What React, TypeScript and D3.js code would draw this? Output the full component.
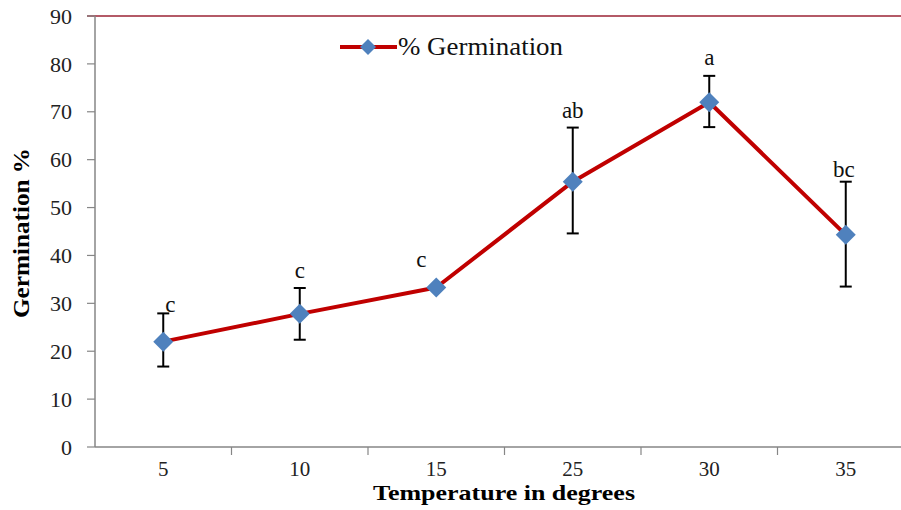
import React from "react";
import * as d3 from "d3";

const categories = ["5", "10", "15", "25", "30", "35"];
const germination = [22.0, 27.8, 33.3, 55.4, 72.0, 44.3];
const errUpper = [27.9, 33.2, 33.6, 66.7, 77.5, 55.4];
const errLower = [16.8, 22.4, 33.0, 44.6, 66.8, 33.5];
const letters = ["c", "c", "c", "ab", "a", "bc"];
const yTicks = [0, 10, 20, 30, 40, 50, 60, 70, 80, 90];

const W = 901;
const H = 510;
const left = 95;
const top = 16;
const bottom = 447;
const right = 914;

export default function App() {
  const x = d3.scaleBand<string>().domain(categories).range([left, right]);
  const y = d3.scaleLinear().domain([0, 90]).range([bottom, top]);
  const cx = (c: string) => (x(c) as number) + x.bandwidth() / 2;
  const line = d3
    .line<number>()
    .x((_, i) => cx(categories[i]))
    .y((d) => y(d));
  const serif = { fontFamily: "Liberation Serif, DejaVu Serif, serif" };
  const diamond = (px: number, py: number, r = 10) =>
    `M${px},${py - r}L${px + r},${py}L${px},${py + r}L${px - r},${py}Z`;
  const labelDx = [7, 0, -15, 0, 0, -2];
  const labelDy = [-1, -10, -19, -10, -11, -5];

  return (
    <svg width={W} height={H} style={{ position: "absolute", left: 0, top: 0, background: "#fff" }}>
      {/* top border */}
      <line x1={left - 8} x2={W} y1={y(90)} y2={y(90)} stroke="#9B2335" strokeWidth={1.5} />
      {/* y axis */}
      <line x1={left} x2={left} y1={top} y2={bottom} stroke="#868686" strokeWidth={1.5} />
      {yTicks.map((t) => (
        <g key={t}>
          <line x1={left - 8} x2={left} y1={y(t)} y2={y(t)} stroke="#868686" strokeWidth={1.2} />
          <text
            x={72}
            y={y(t)}
            dy="0.35em"
            textAnchor="end"
            style={serif}
            fontSize={22}
            fill="#222"
          >
            {t}
          </text>
        </g>
      ))}
      {/* x axis */}
      <line x1={left} x2={right} y1={bottom} y2={bottom} stroke="#868686" strokeWidth={1.5} />
      {categories.map((c, i) => (
        <g key={c}>
          {i > 0 && (
            <line
              x1={x(c) as number}
              x2={x(c) as number}
              y1={bottom}
              y2={bottom + 8}
              stroke="#868686"
              strokeWidth={1.2}
            />
          )}
          <text x={cx(c)} y={476} textAnchor="middle" style={serif} fontSize={21} fill="#222">
            {c}
          </text>
        </g>
      ))}
      <line
        x1={right}
        x2={right}
        y1={bottom}
        y2={bottom + 8}
        stroke="#868686"
        strokeWidth={1.2}
      />
      {/* axis titles */}
      <text
        x={504}
        y={500}
        textAnchor="middle"
        style={serif}
        fontSize={21}
        fontWeight="bold"
        textLength={262}
        lengthAdjust="spacingAndGlyphs"
      >
        Temperature in degrees
      </text>
      <text
        transform="translate(29,233) rotate(-90)"
        textAnchor="middle"
        style={serif}
        fontSize={24}
        fontWeight="bold"
        textLength={170}
        lengthAdjust="spacingAndGlyphs"
      >
        Germination %
      </text>
      {/* series line */}
      <path d={line(germination) || ""} fill="none" stroke="#C00000" strokeWidth={4} strokeLinejoin="round" />
      {/* error bars */}
      {categories.map((c, i) => (
        <g key={"e" + c} stroke="#000" strokeWidth={2}>
          <line x1={cx(c)} x2={cx(c)} y1={y(errUpper[i])} y2={y(errLower[i])} />
          <line x1={cx(c) - 6} x2={cx(c) + 6} y1={y(errUpper[i])} y2={y(errUpper[i])} />
          <line x1={cx(c) - 6} x2={cx(c) + 6} y1={y(errLower[i])} y2={y(errLower[i])} />
        </g>
      ))}
      {/* markers */}
      {categories.map((c, i) => (
        <path key={"m" + c} d={diamond(cx(c), y(germination[i]))} fill="#4F81BD" />
      ))}
      {/* letters */}
      {categories.map((c, i) => (
        <text
          key={"l" + c}
          x={cx(c) + labelDx[i]}
          y={y(errUpper[i]) + labelDy[i]}
          textAnchor="middle"
          style={serif}
          fontSize={23}
          fill="#111"
        >
          {letters[i]}
        </text>
      ))}
      {/* legend */}
      <line x1={340} x2={397} y1={47} y2={47} stroke="#C00000" strokeWidth={4} />
      <path d={diamond(368, 47, 8)} fill="#4F81BD" />
      <text
        x={398}
        y={55}
        style={serif}
        fontSize={25}
        fill="#111"
        textLength={165}
        lengthAdjust="spacingAndGlyphs"
      >
        % Germination
      </text>
    </svg>
  );
}
